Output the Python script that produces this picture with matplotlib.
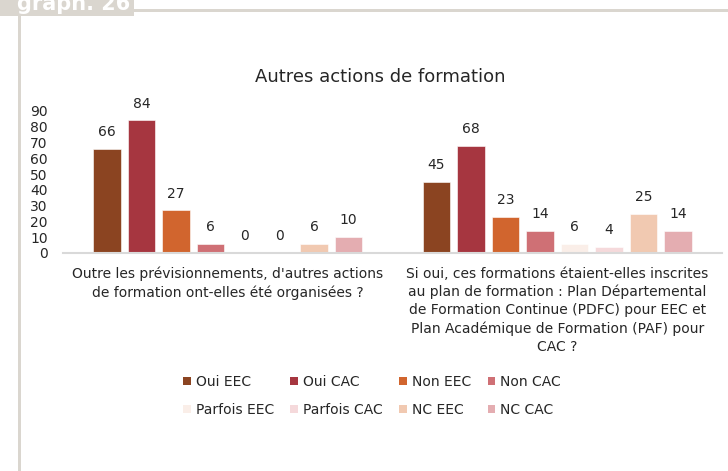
import matplotlib
matplotlib.use("Agg")
import matplotlib.pyplot as plt
from matplotlib.patches import Rectangle, Patch
import numpy as np

plt.rcParams['font.family'] = ['DejaVu Sans']

categories = [
    "Outre les prévisionnements, d'autres actions\nde formation ont-elles été organisées ?",
    "Si oui, ces formations étaient-elles inscrites\nau plan de formation : Plan Départemental\nde Formation Continue (PDFC) pour EEC et\nPlan Académique de Formation (PAF) pour\nCAC ?",
]
series_names = ["Oui EEC", "Oui CAC", "Non EEC", "Non CAC",
                "Parfois EEC", "Parfois CAC", "NC EEC", "NC CAC"]
oui_eec = [66, 45]
oui_cac = [84, 68]
non_eec = [27, 23]
non_cac = [6, 14]
parfois_eec = [0, 6]
parfois_cac = [0, 4]
nc_eec = [6, 25]
nc_cac = [10, 14]
series_values = [oui_eec, oui_cac, non_eec, non_cac,
                 parfois_eec, parfois_cac, nc_eec, nc_cac]
colors = ["#8B4421", "#A63640", "#D1652E", "#CF7075",
          "#FAEEE8", "#F5D9DB", "#F1C9B1", "#E4ADB1"]
yticks = [0, 10, 20, 30, 40, 50, 60, 70, 80, 90]

fig = plt.figure(figsize=(7.28, 4.71), dpi=100)

# Frame decorations
frame_col = "#DAD6CF"
fig.patches.append(Rectangle((0, 1 - 16/471), 134/728, 16/471, transform=fig.transFigure,
                             facecolor=frame_col, edgecolor='none', zorder=0))
fig.patches.append(Rectangle((134/728, 1 - 11.5/471), 1 - 134/728, 2.5/471, transform=fig.transFigure,
                             facecolor=frame_col, edgecolor='none', zorder=0))
fig.patches.append(Rectangle((18/728, 0), 2.5/728, 1 - 16/471, transform=fig.transFigure,
                             facecolor=frame_col, edgecolor='none', zorder=0))
fig.text(17/728, 1 - 10/471, "graph. 26", color="white", fontsize=15, fontweight='bold',
         ha='left', va='baseline')

ax = fig.add_axes([63/728, 1 - 253/471, (722 - 63)/728, (253 - 111)/471])
x = np.arange(len(categories))
step = 0.1047
width = 0.082
for i, (name, vals, col) in enumerate(zip(series_names, series_values, colors)):
    pos = x + (i - 3.5) * step
    bars = ax.bar(pos, vals, width=width, color=col, label=name, zorder=2,
                  edgecolor='white', linewidth=0.4)
    for b, v in zip(bars, vals):
        ax.annotate(str(v), (b.get_x() + b.get_width()/2, v), xytext=(0, 7),
                    textcoords='offset points', ha='center', va='bottom',
                    fontsize=10, color='#262626')

ax.set_xlim(-0.5, 1.5)
ax.set_ylim(0, 90)
ax.set_yticks(yticks)
ax.set_yticklabels([str(t) for t in yticks], fontsize=10, color='#262626')
ax.set_xticks(x)
ax.set_xticklabels(categories, fontsize=10, color='#262626', linespacing=1.35)
ax.tick_params(axis='both', length=0)
ax.tick_params(axis='y', pad=11)
ax.tick_params(axis='x', pad=10)
for s in ['top', 'right', 'left']:
    ax.spines[s].set_visible(False)
ax.spines['bottom'].set_color('#D9D9D9')
ax.spines['bottom'].set_linewidth(1.5)
ax.spines['bottom'].set_zorder(3)

fig.text(380/728, 1 - 77/471, "Autres actions de formation", fontsize=13,
         ha='center', va='center', color='#262626')

handles = [Patch(facecolor=c, edgecolor='none') for c in colors]
order = [0, 4, 1, 5, 2, 6, 3, 7]
fig.legend([handles[k] for k in order], [series_names[k] for k in order],
           loc='center', bbox_to_anchor=(372/728, 1 - 396/471),
           ncol=4, frameon=False, fontsize=10, handlelength=0.55, handleheight=0.55,
           handletextpad=0.35, columnspacing=1.2, labelspacing=1.0,
           labelcolor='#262626')

fig.savefig("out.png", dpi=100)
